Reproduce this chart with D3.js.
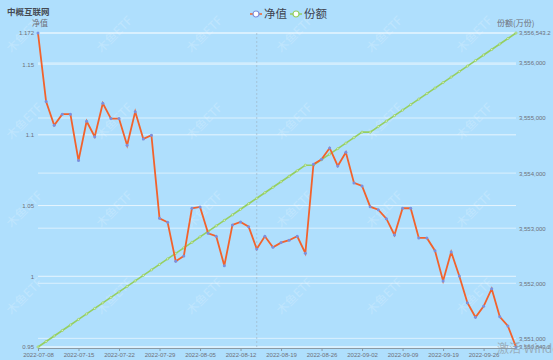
<!DOCTYPE html>
<html>
<head>
<meta charset="utf-8">
<script src="https://cdn.jsdelivr.net/npm/d3@7"></script>
<style>
  body { margin: 0; background: #afdffd; }
  svg { display: block; font-family: "Noto Sans CJK SC", "Noto Sans", sans-serif; }
</style>
</head>
<body>
<div id="chart"></div>
<script>
// trading days
const dates = [
  "2022-07-08", "2022-07-11", "2022-07-12", "2022-07-13", "2022-07-14", "2022-07-15",
  "2022-07-18", "2022-07-19", "2022-07-20", "2022-07-21", "2022-07-22",
  "2022-07-25", "2022-07-26", "2022-07-27", "2022-07-28", "2022-07-29",
  "2022-08-01", "2022-08-02", "2022-08-03", "2022-08-04", "2022-08-05",
  "2022-08-08", "2022-08-09", "2022-08-10", "2022-08-11", "2022-08-12",
  "2022-08-15", "2022-08-16", "2022-08-17", "2022-08-18", "2022-08-19",
  "2022-08-22", "2022-08-23", "2022-08-24", "2022-08-25", "2022-08-26",
  "2022-08-29", "2022-08-30", "2022-08-31", "2022-09-01", "2022-09-02",
  "2022-09-05", "2022-09-06", "2022-09-07", "2022-09-08", "2022-09-09",
  "2022-09-13", "2022-09-14", "2022-09-15", "2022-09-16", "2022-09-19",
  "2022-09-20", "2022-09-21", "2022-09-22", "2022-09-23", "2022-09-26",
  "2022-09-27", "2022-09-28", "2022-09-29", "2022-09-30"
];

// 净值
const nav = [
  1.172, 1.1235, 1.1068, 1.1146, 1.1146, 1.0818, 1.1096, 1.0987, 1.1223, 1.1115,
  1.1115, 1.0926, 1.1164, 1.0971, 1.0997, 1.041, 1.0382, 1.0106, 1.0144, 1.0481,
  1.049, 1.0304, 1.0283, 1.0075, 1.0363, 1.0384, 1.0351, 1.0193, 1.0283, 1.0205,
  1.0238, 1.0255, 1.0283, 1.0163, 1.0792, 1.0827, 1.0907, 1.078, 1.0877, 1.066,
  1.0639, 1.0492, 1.0471, 1.0407, 1.0292, 1.0481, 1.0481, 1.0271, 1.0271, 1.0181,
  0.9967, 1.0172, 1.0002, 0.9813, 0.971, 0.9788, 0.9912, 0.9714, 0.9649, 0.95
];

// 份额(万份)
const shares = [
  3550843.2, 3550943.2, 3551043.2, 3551143.2, 3551243.2, 3551343.2, 3551443.2, 3551543.2, 3551643.2, 3551743.2,
  3551843.2, 3551943.2, 3552043.2, 3552143.2, 3552243.2, 3552343.2, 3552443.2, 3552543.2, 3552643.2, 3552743.2,
  3552843.2, 3552943.2, 3553043.2, 3553143.2, 3553243.2, 3553343.2, 3553443.2, 3553543.2, 3553643.2, 3553743.2,
  3553843.2, 3553943.2, 3554043.2, 3554143.2, 3554143.2, 3554243.2, 3554343.2, 3554443.2, 3554543.2, 3554643.2,
  3554743.2, 3554743.2, 3554843.2, 3554943.2, 3555043.2, 3555143.2, 3555243.2, 3555343.2, 3555443.2, 3555543.2,
  3555643.2, 3555743.2, 3555843.2, 3555943.2, 3556043.2, 3556143.2, 3556243.2, 3556343.2, 3556443.2, 3556543.2
];

const xTickLabels = [
  "2022-07-08", "2022-07-15", "2022-07-22", "2022-07-29", "2022-08-05", "2022-08-12",
  "2022-08-19", "2022-08-26", "2022-09-02", "2022-09-09", "2022-09-19", "2022-09-26"
];
const leftTicks = [0.95, 1, 1.05, 1.1, 1.15, 1.172];
const rightTicks = [3550843.2, 3551000, 3552000, 3553000, 3554000, 3555000, 3556000, 3556543.2];
const pointerDate = "2022-08-16";

const W = 553, H = 360;
const margin = { top: 33, right: 37, bottom: 13, left: 38 };

const svg = d3.select("#chart").append("svg")
  .attr("width", W)
  .attr("height", H);

const x = d3.scalePoint()
  .domain(dates)
  .range([margin.left, W - margin.right]);

const yL = d3.scaleLinear()
  .domain([0.95, 1.172])
  .range([H - margin.bottom, margin.top]);

const yR = d3.scaleLinear()
  .domain([3550843.2, 3556543.2])
  .range([H - margin.bottom, margin.top]);

// watermark
const wmX = [25, 115, 205, 295, 385, 475];
const wmY = [35, 122, 210, 297];
const wm = svg.append("g");
wmY.forEach(yy => wmX.forEach(xx => {
  wm.append("text")
    .attr("transform", `translate(${xx},${yy}) rotate(-45)`)
    .attr("text-anchor", "middle")
    .attr("dominant-baseline", "middle")
    .style("font-size", "12px")
    .style("fill", "#ffffff")
    .style("opacity", 0.2)
    .text("木鱼ETF");
}));

// gridlines (both axes)
const grid = svg.append("g");
grid.selectAll(".gl")
  .data(leftTicks)
  .enter().append("line")
  .attr("x1", margin.left).attr("x2", W - margin.right)
  .attr("y1", d => yL(d)).attr("y2", d => yL(d))
  .attr("stroke", "#ffffff").attr("stroke-opacity", 0.7).attr("stroke-width", 1);
grid.selectAll(".gr")
  .data(rightTicks)
  .enter().append("line")
  .attr("x1", margin.left).attr("x2", W - margin.right)
  .attr("y1", d => yR(d)).attr("y2", d => yR(d))
  .attr("stroke", "#ffffff").attr("stroke-opacity", 0.55).attr("stroke-width", 1);

// axis pointer
svg.append("line")
  .attr("x1", x(pointerDate)).attr("x2", x(pointerDate))
  .attr("y1", margin.top).attr("y2", H - margin.bottom)
  .attr("stroke", "#9fb8c9").attr("stroke-dasharray", "2,2").attr("stroke-width", 0.7);

// left axis
const axL = svg.append("g")
  .attr("transform", `translate(${margin.left},0)`)
  .call(d3.axisLeft(yL).tickValues(leftTicks).tickFormat(d3.format("")).tickSize(0).tickPadding(4));
axL.select(".domain").remove();

// right axis
const axR = svg.append("g")
  .attr("transform", `translate(${W - margin.right},0)`)
  .call(d3.axisRight(yR).tickValues(rightTicks).tickFormat(d3.format(",")).tickSize(0).tickPadding(3));
axR.select(".domain").remove();

// bottom axis
const axB = svg.append("g")
  .attr("transform", `translate(0,${H - margin.bottom + 1})`)
  .call(d3.axisBottom(x).tickValues(xTickLabels).tickSize(3).tickPadding(2).tickSizeOuter(0));
axB.select(".domain").attr("stroke", "#8a9aa6");
axB.selectAll(".tick line").attr("stroke", "#8a9aa6");

[axL, axR, axB].forEach(a => a.selectAll("text")
  .style("font-size", "6px")
  .style("font-family", "'Liberation Sans', sans-serif")
  .attr("fill", "#6e7079"));

// 份额 line
const lineR = d3.line()
  .x((d, i) => x(dates[i]))
  .y(d => yR(d));
svg.append("path")
  .datum(shares)
  .attr("d", lineR)
  .attr("fill", "none")
  .attr("stroke", "#95cf62")
  .attr("stroke-width", 1.6);
svg.append("g").selectAll("circle")
  .data(shares)
  .enter().append("circle")
  .attr("cx", (d, i) => x(dates[i]))
  .attr("cy", d => yR(d))
  .attr("r", 1.1)
  .attr("fill", "#d9f0c4")
  .attr("stroke", "#95cf62")
  .attr("stroke-width", 0.7);

// 净值 line
const lineL = d3.line()
  .x((d, i) => x(dates[i]))
  .y(d => yL(d));
svg.append("path")
  .datum(nav)
  .attr("d", lineL)
  .attr("fill", "none")
  .attr("stroke", "#f2622c")
  .attr("stroke-width", 1.8);
svg.append("g").selectAll("circle")
  .data(nav)
  .enter().append("circle")
  .attr("cx", (d, i) => x(dates[i]))
  .attr("cy", d => yL(d))
  .attr("r", 1.5)
  .attr("fill", "#7a90e0");

// titles
svg.append("text")
  .attr("x", 7).attr("y", 15)
  .style("font-size", "8.5px").style("font-weight", "bold")
  .attr("fill", "#454a52")
  .text("中概互联网");
svg.append("text")
  .attr("x", 32).attr("y", 26)
  .style("font-size", "8px")
  .attr("fill", "#6e7079")
  .text("净值");
svg.append("text")
  .attr("x", 497).attr("y", 26)
  .style("font-size", "8px")
  .attr("fill", "#6e7079")
  .text("份额(万份)");

// legend
const legend = [
  { label: "净值", line: "#f2622c", dot: "#7a90e0", x: 250 },
  { label: "份额", line: "#95cf62", dot: "#95cf62", x: 290 }
];
const lg = svg.append("g").selectAll("g")
  .data(legend)
  .enter().append("g")
  .attr("transform", d => `translate(${d.x},14)`);
lg.append("line")
  .attr("x1", 0).attr("x2", 12)
  .attr("stroke", d => d.line).attr("stroke-width", 1.5);
lg.append("circle")
  .attr("cx", 6).attr("r", 3)
  .attr("fill", "#ffffff")
  .attr("stroke", d => d.dot).attr("stroke-width", 1.2);
lg.append("text")
  .attr("x", 14).attr("y", 4)
  .style("font-size", "11.5px")
  .attr("fill", "#3f4450")
  .text(d => d.label);

// OS overlay text seen at the corner
svg.append("text")
  .attr("x", 497).attr("y", 353)
  .style("font-size", "12px")
  .attr("fill", "#8f9aa3")
  .attr("opacity", 0.7)
  .text("激活 Windows");
</script>
</body>
</html>
